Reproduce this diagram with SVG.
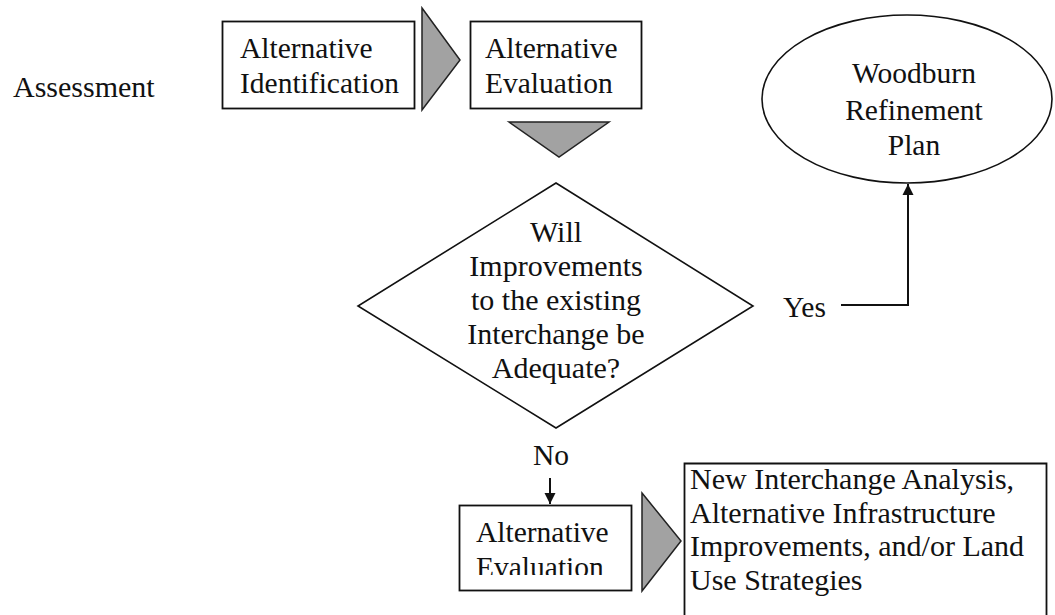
<svg xmlns="http://www.w3.org/2000/svg" width="1055" height="615" viewBox="0 0 1055 615" font-family="'Liberation Serif', 'Times New Roman', Tinos, 'DejaVu Serif', serif">
<style>
text{font-size:29.5px;fill:#111}
.big{font-size:30px}
.dia{font-size:30px}
.box{fill:none;stroke:#111;stroke-width:1.8}
.shape{fill:none;stroke:#111;stroke-width:1.6}
.garrow{fill:#a2a2a2;stroke:#222;stroke-width:1.5;stroke-linejoin:miter}
.conn{fill:none;stroke:#111;stroke-width:2}
.mid{text-anchor:middle}
</style>
<defs>
<marker id="ah" markerWidth="12" markerHeight="12" refX="11" refY="6" orient="auto" markerUnits="userSpaceOnUse">
<path d="M0,0.5 L11,6 L0,11.5 Z" fill="#111"/>
</marker>
<clipPath id="clipEval"><rect x="459" y="505" width="174" height="70"/></clipPath>
</defs>
<rect width="1055" height="615" fill="#fff"/>

<g id="label-assessment"><text x="13" y="97" style="font-size:30px">Assessment</text></g>

<g id="node-alt-identification">
<rect class="box" x="222.5" y="21.5" width="192" height="87"/>
<text x="240" y="58">Alternative</text>
<text x="240" y="93">Identification</text>
</g>

<g id="arrow-gray-1"><polygon class="garrow" points="422,8 460,60 422,110"/></g>

<g id="node-alt-evaluation-1">
<rect class="box" x="470.5" y="21.5" width="171" height="87"/>
<text x="485" y="58">Alternative</text>
<text x="485" y="93">Evaluation</text>
</g>

<g id="arrow-gray-down"><polygon class="garrow" points="509,122 609,122 559,157"/></g>

<g id="node-decision">
<polygon class="shape" points="556,183 753,306 556,428 358,306"/>
<text class="mid dia" x="556" y="242">Will</text>
<text class="mid dia" x="556" y="276">Improvements</text>
<text class="mid dia" x="556" y="310">to the existing</text>
<text class="mid dia" x="556" y="344">Interchange be</text>
<text class="mid dia" x="556" y="378">Adequate?</text>
</g>

<g id="node-woodburn">
<ellipse class="shape" cx="907" cy="99" rx="145" ry="84"/>
<text class="mid" x="914" y="83">Woodburn</text>
<text class="mid" x="914" y="120">Refinement</text>
<text class="mid" x="914" y="155">Plan</text>
</g>

<g id="node-alt-evaluation-2">
<rect class="box" x="459.5" y="505.5" width="172" height="85"/>
<text x="476" y="542">Alternative</text>
<text x="476" y="577" clip-path="url(#clipEval)">Evaluation</text>
</g>

<g id="arrow-gray-2"><polygon class="garrow" points="642,493 681,541 642,591"/></g>

<g id="node-new-interchange">
<path class="box" d="M684.5,620 V463.5 H1046.5 V620"/>
<text class="big" x="690" y="489">New Interchange Analysis,</text>
<text class="big" x="690" y="522.5">Alternative Infrastructure</text>
<text class="big" x="690" y="556">Improvements, and/or Land</text>
<text class="big" x="690" y="589.5">Use Strategies</text>
</g>

<g id="connectors">
<text x="783" y="317">Yes</text>
<path class="conn" d="M841,305 H908 V184" marker-end="url(#ah)"/>
<text x="533" y="465">No</text>
<path class="conn" d="M550,478 V504" marker-end="url(#ah)"/>
</g>
</svg>
